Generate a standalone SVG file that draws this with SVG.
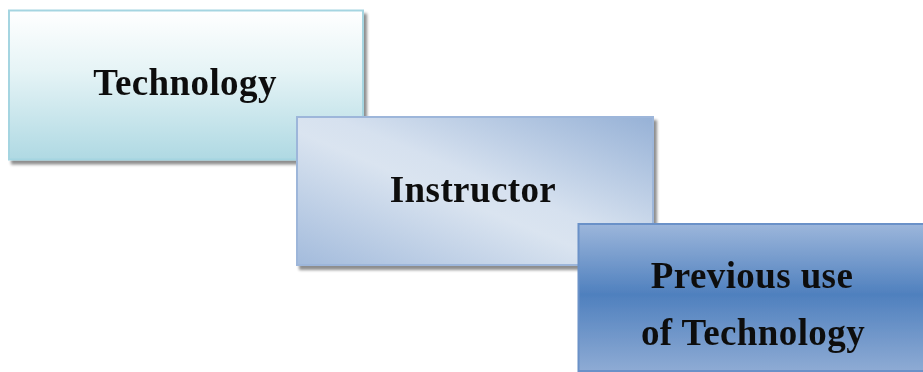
<svg xmlns="http://www.w3.org/2000/svg" width="923" height="372" viewBox="0 0 923 372">
  <defs>
    <linearGradient id="gTech" x1="0" y1="0" x2="0" y2="1">
      <stop offset="0" stop-color="#ffffff"/>
      <stop offset="0.4" stop-color="#e6f4f6"/>
      <stop offset="1" stop-color="#afd9e3"/>
    </linearGradient>
    <linearGradient id="gInstr" x1="0" y1="1" x2="1" y2="0">
      <stop offset="0" stop-color="#a3bbdc"/>
      <stop offset="0.45" stop-color="#dae4f0"/>
      <stop offset="0.55" stop-color="#d6e1ef"/>
      <stop offset="1" stop-color="#96b1d6"/>
    </linearGradient>
    <linearGradient id="gPrev" x1="0" y1="0" x2="0" y2="1">
      <stop offset="0" stop-color="#9cb6db"/>
      <stop offset="0.48" stop-color="#4f80be"/>
      <stop offset="1" stop-color="#8eabd4"/>
    </linearGradient>
    <filter id="shadow" x="-5%" y="-5%" width="115%" height="120%">
      <feGaussianBlur in="SourceAlpha" stdDeviation="1.5"/>
      <feOffset dx="3" dy="4" result="b"/>
      <feComponentTransfer><feFuncA type="linear" slope="0.45"/></feComponentTransfer>
      <feMerge><feMergeNode/><feMergeNode in="SourceGraphic"/></feMerge>
    </filter>
  </defs>
  <style>
    .label { font-family: "Liberation Serif", "Times New Roman", serif; font-weight: bold; font-size: 37px; letter-spacing: 0.4px; fill: #111111; text-anchor: middle; }
  </style>
  <rect width="923" height="372" fill="#ffffff"/>

  <g id="node-technology" filter="url(#shadow)">
    <rect x="9" y="10.5" width="354" height="149" fill="url(#gTech)" stroke="#a5d5e1" stroke-width="2"/>
    <text class="label" x="185" y="95">Technology</text>
  </g>

  <g id="node-instructor" filter="url(#shadow)">
    <rect x="297" y="117" width="356" height="148" fill="url(#gInstr)" stroke="#9db6da" stroke-width="2"/>
    <text class="label" x="473" y="202">Instructor</text>
  </g>

  <g id="node-previous-use" filter="url(#shadow)">
    <rect x="578.5" y="224" width="356" height="147" fill="url(#gPrev)" stroke="#6a91c8" stroke-width="2"/>
    <text class="label" x="752" y="288">Previous use</text>
    <text class="label" x="753" y="345">of Technology</text>
  </g>

  <g id="connectors"/>
</svg>
